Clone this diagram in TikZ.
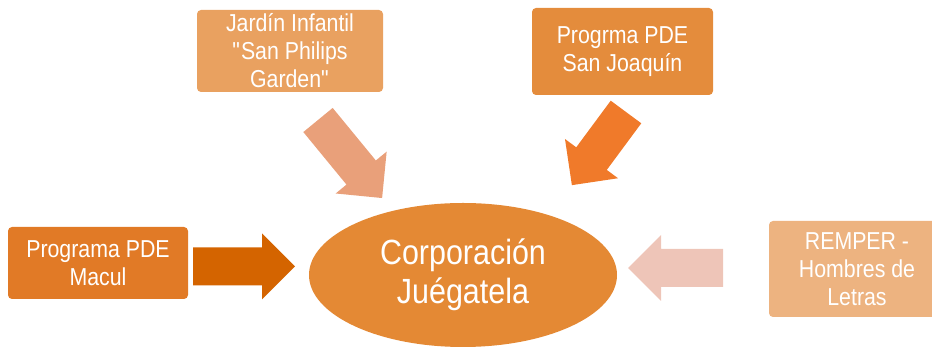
\documentclass[tikz,border=0pt]{standalone}
\usepackage{fontspec}
\setmainfont{Liberation Sans}[FakeStretch=0.87]
\usepackage{tikz}
\usetikzlibrary{shapes.geometric}
\definecolor{jardinBox}{RGB}{233,161,96}
\definecolor{joaquinBox}{RGB}{228,140,60}
\definecolor{maculBox}{RGB}{225,122,38}
\definecolor{remperBox}{RGB}{237,179,128}
\definecolor{centreFill}{RGB}{228,137,52}
\definecolor{jardinArrow}{RGB}{233,160,122}
\definecolor{joaquinArrow}{RGB}{240,122,42}
\definecolor{maculArrow}{RGB}{212,100,0}
\definecolor{remperArrow}{RGB}{238,197,184}
\tikzset{
  every source box/.style={rounded corners=4pt,inner sep=0pt,text=white,align=center,
    font=\fontsize{24.5}{28}\selectfont},
  fat arrow/.pic={
    \fill (0,-19) -- ({#1-33},-19) -- ({#1-33},-33) -- (#1,0)
      -- ({#1-33},33) -- ({#1-33},19) -- (0,19) -- cycle;
  },
}

\begin{document}
\begin{tikzpicture}[
  x=1pt,y=1pt,
  source/.style={every source box},
  centre/.style={ellipse,inner sep=0pt,fill=centreFill,text=white,align=center,
    minimum width=308pt,minimum height=144pt,font=\fontsize{35}{38.5}\selectfont},
]
\useasboundingbox (0,0) rectangle (932,347);
% the boxes
\node[source,fill=jardinBox,minimum width=186pt,minimum height=82pt] (jardin) at (290,296)
  {Jard\'in Infantil\\\textquotedbl San Philips\\Garden\textquotedbl};
\node[source,fill=joaquinBox,minimum width=181pt,minimum height=87pt] (joaquin) at (622.5,295.5)
  {Progrma PDE\\San Joaqu\'in};
\node[source,fill=maculBox,minimum width=180pt,minimum height=72pt] (macul) at (98,84)
  {Programa PDE\\Macul};
\node[source,fill=remperBox,minimum width=176pt,minimum height=96pt] (remper) at (857,78)
  {REMPER -\\Hombres de\\Letras};
\node[centre] (corp) at (463,72) {Corporaci\'on\\Ju\'egatela};
% the arrows
\foreach \x/\y/\a/\l/\c in {318/227/-50.6/101/jardinArrow,626/235/-126.5/91/joaquinArrow,
    193/80.5/0/102/maculArrow,723/79/180/95/remperArrow} {
  \pic[fill=\c,rotate=\a] at (\x,\y) {fat arrow=\l};
}
\end{tikzpicture}
\end{document}
